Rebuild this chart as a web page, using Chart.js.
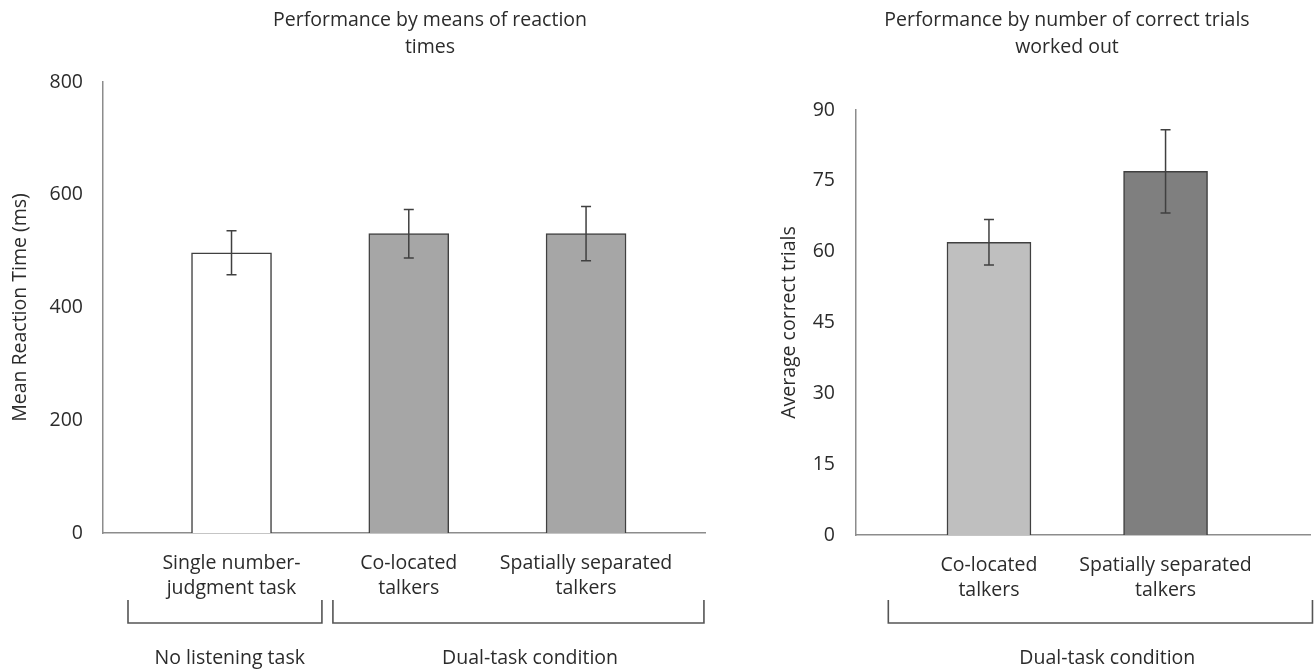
<!DOCTYPE html>
<html>
<head>
<meta charset="utf-8">
<script src="https://cdn.jsdelivr.net/npm/chart.js@4.4.1/dist/chart.umd.min.js"></script>
<style>
  html, body { margin: 0; padding: 0; background: #fff; }
  .wrap { position: absolute; top: 0; height: 670px; }
  #leftWrap { left: 0; width: 720px; }
  #rightWrap { left: 740px; width: 574px; }
</style>
</head>
<body>
<div id="leftWrap" class="wrap"><canvas id="rtChart"></canvas></div>
<div id="rightWrap" class="wrap"><canvas id="trialsChart"></canvas></div>
<script>
// left panel: reaction times
const rtCategories = [['Single number-', 'judgment task'], ['Co-located', 'talkers'], ['Spatially separated', 'talkers']];
const rtMeans = [497, 531, 531];
const rtErrors = [39, 43, 48];
const rtTicks = [0, 200, 400, 600, 800];
const rtGroups = ['No listening task', 'Dual-task condition'];

// right panel: correct trials
const trCategories = [['Co-located', 'talkers'], ['Spatially separated', 'talkers']];
const trMeans = [62, 77];
const trErrors = [4.8, 8.8];
const trTicks = [0, 15, 30, 45, 60, 75, 90];
const trGroups = ['Dual-task condition'];

const FONT = "'Open Sans', 'Noto Sans', sans-serif";
const TEXT = '#2b2b2b';
const AXIS = '#8c8c8c';
const EDGE = '#404040';
const FS = 19.5;

// error bars + brackets under the x axis
const extras = {
  id: 'extras',
  afterDatasetsDraw(chart, args, opts) {
    const { ctx } = chart;
    const xs = chart.scales.x, ys = chart.scales.y;
    const ds = chart.data.datasets[0];
    ctx.save();
    ctx.strokeStyle = EDGE;
    ctx.lineWidth = 1.5;
    ds.data.forEach((p, i) => {
      const x = xs.getPixelForValue(p.x);
      const hi = ys.getPixelForValue(p.y + opts.errors[i]);
      const lo = ys.getPixelForValue(p.y - opts.errors[i]);
      ctx.beginPath();
      ctx.moveTo(x, hi); ctx.lineTo(x, lo);
      ctx.moveTo(x - 5, hi); ctx.lineTo(x + 5, hi);
      ctx.moveTo(x - 5, lo); ctx.lineTo(x + 5, lo);
      ctx.stroke();
    });
    ctx.strokeStyle = '#555';
    ctx.lineWidth = 1.6;
    ctx.fillStyle = TEXT;
    ctx.font = FS + "px " + FONT;
    ctx.textAlign = 'center';
    ctx.textBaseline = 'middle';
    opts.brackets.forEach((b, i) => {
      const x0 = xs.getPixelForValue(b.from);
      const x1 = xs.getPixelForValue(b.to);
      ctx.beginPath();
      ctx.moveTo(x0, opts.bracketTop); ctx.lineTo(x0, opts.bracketBottom);
      ctx.lineTo(x1, opts.bracketBottom); ctx.lineTo(x1, opts.bracketTop);
      ctx.stroke();
      ctx.fillText(opts.groups[i], xs.getPixelForValue(b.labelAt), opts.labelY);
    });
    ctx.restore();
  }
};

const titles = {
  id: 'titles',
  afterDraw(chart, args, opts) {
    const { ctx } = chart;
    ctx.save();
    ctx.fillStyle = TEXT;
    ctx.font = "19.5px " + FONT;
    ctx.textAlign = 'center';
    ctx.textBaseline = 'middle';
    opts.lines.forEach((t, i) => ctx.fillText(t, opts.cx, 20 + i * 27));
    ctx.restore();
  }
};

function makeChart(id, cfg) {
  return new Chart(document.getElementById(id), {
    type: 'bar',
    data: {
      datasets: [{
        data: cfg.means.map((v, i) => ({ x: i + 1, y: v })),
        backgroundColor: cfg.colors,
        borderColor: EDGE,
        borderWidth: 1.5,
        barThickness: cfg.barWidth,
      }],
    },
    options: {
      responsive: true, maintainAspectRatio: false, animation: false,
      layout: { padding: { top: cfg.top, right: cfg.right, left: 0, bottom: 0 } },
      scales: {
        x: {
          type: 'linear', position: 'bottom', min: cfg.xMin, max: cfg.xMax, offset: false,
          grid: { display: false, drawTicks: false, offset: false },
          border: { color: AXIS, width: 1.5 },
          afterBuildTicks: s => { s.ticks = cfg.categories.map((c, i) => ({ value: i + 1 })); },
          afterFit: s => { s.height = cfg.xHeight; },
          ticks: {
            autoSkip: false, maxRotation: 0, padding: 18, color: TEXT,
            font: { family: FONT, size: FS, lineHeight: 1.28 },
            callback: (v) => cfg.categories[Math.round(v) - 1],
          },
        },
        y: {
          min: 0, max: cfg.yTicks[cfg.yTicks.length - 1],
          grid: { display: false, drawTicks: false },
          border: { color: AXIS, width: 1.5 },
          afterBuildTicks: s => { s.ticks = cfg.yTicks.map(v => ({ value: v })); },
          afterFit: s => { s.width = cfg.yWidth; },
          ticks: { padding: cfg.yPad, color: TEXT, font: { family: FONT, size: FS } },
          title: { display: true, text: cfg.yTitle, color: TEXT, font: { family: FONT, size: FS }, padding: { top: cfg.titlePad, bottom: 0 } },
        },
      },
      plugins: {
        legend: { display: false },
        tooltip: { enabled: false },
        titles: { lines: cfg.title, cx: cfg.titleX },
        extras: {
          errors: cfg.errors, groups: cfg.groups, brackets: cfg.brackets,
          bracketTop: 600, bracketBottom: 623, labelY: 658,
        },
      },
    },
    plugins: [extras, titles],
  });
}

makeChart('rtChart', {
  means: rtMeans, errors: rtErrors, categories: rtCategories, yTicks: rtTicks, groups: rtGroups,
  colors: ['#ffffff', '#a6a6a6', '#a6a6a6'], barWidth: 80,
  top: 82, right: 15, xMin: 0.275, xMax: 3.671, xHeight: 137, yWidth: 103, yPad: 20, titlePad: 9,
  yTitle: 'Mean Reaction Time (ms)',
  title: ['Performance by means of reaction', 'times'], titleX: 430,
  brackets: [{ from: 0.416, to: 1.51, labelAt: 0.99 }, { from: 1.572, to: 3.665, labelAt: 2.684 }],
});

makeChart('trialsChart', {
  means: trMeans, errors: trErrors, categories: trCategories, yTicks: trTicks, groups: trGroups,
  colors: ['#bfbfbf', '#7f7f7f'], barWidth: 84,
  top: 110, right: 4, xMin: 0.247, xMax: 2.818, xHeight: 135, yWidth: 116, yPad: 21, titlePad: 38,
  yTitle: 'Average correct trials',
  title: ['Performance by number of correct trials', 'worked out'], titleX: 327,
  brackets: [{ from: 0.43, to: 2.832, labelAt: 1.67 }],
});
</script>
</body>
</html>
